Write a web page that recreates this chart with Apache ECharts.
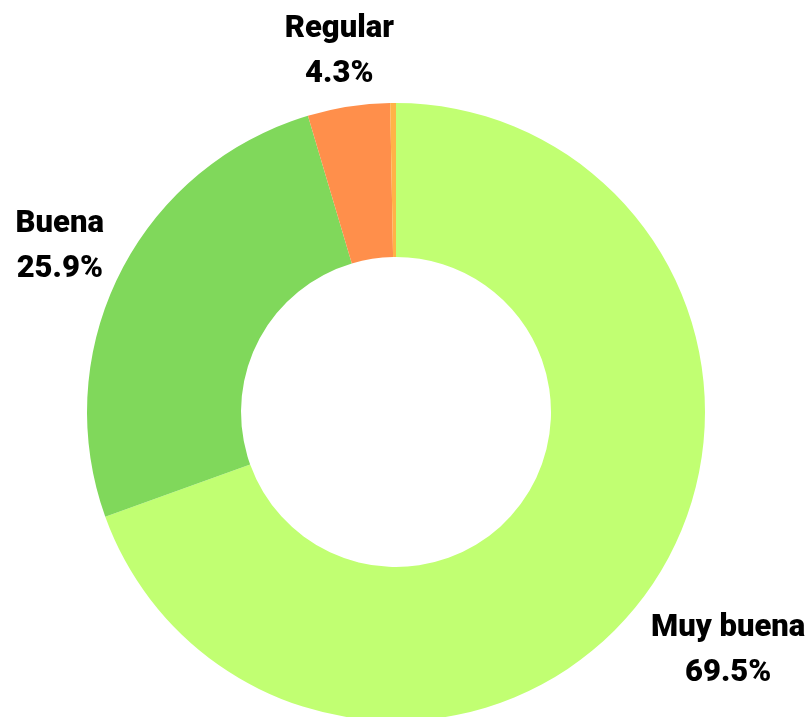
<!DOCTYPE html>
<html>
<head>
<meta charset="utf-8">
<script src="https://cdn.jsdelivr.net/npm/echarts@6/dist/echarts.min.js"></script>
<style>
  html, body { margin: 0; padding: 0; background: #ffffff; }
  #chart { width: 811px; height: 717px; }
</style>
</head>
<body>
<div id="chart"></div>
<script>
// Valoración: share of answers per rating
const categories = ['Muy buena', 'Buena', 'Regular', 'Mala'];
const shares = [69.5, 25.9, 4.3, 0.3];
const showLabel = [true, true, true, false];
const colors = ['#c1ff72', '#80d85b', '#ff8f4b', '#ffb347'];

const CENTER = [396, 412];
const INNER_R = 155;
const OUTER_R = 309;
const LABEL_GAP = 8;
const LABEL_DY = 5; // optical shift: glyphs sit high inside the line box

const total = shares.reduce((a, b) => a + b, 0);

const chart = echarts.init(document.getElementById('chart'), null, { renderer: 'canvas' });

chart.setOption({
  animation: false,
  backgroundColor: '#ffffff',
  series: [{
    type: 'pie',
    center: CENTER,
    radius: [INNER_R, OUTER_R],
    startAngle: 90,
    clockwise: true,
    avoidLabelOverlap: false,
    itemStyle: { borderWidth: 0 },
    emphasis: { disabled: true },
    labelLine: { show: false },
    label: {
      position: 'outside',
      formatter: p => showLabel[p.dataIndex] ? `${p.name}\n${shares[p.dataIndex].toFixed(1)}%` : '',
      fontFamily: 'Roboto',
      fontWeight: 900,
      fontSize: 31,
      lineHeight: 45,
      color: '#000000',
      align: 'center'
    },
    // Push each label outward along its slice's mid-angle so the text box sits just off the ring
    labelLayout: function (p) {
      const i = p.dataIndex;
      let before = 0;
      for (let k = 0; k < i; k++) before += shares[k];
      const mid = (before + shares[i] / 2) / total * Math.PI * 2;
      const ux = Math.sin(mid), uy = -Math.cos(mid);
      const w = p.labelRect.width, h = p.labelRect.height;
      const ext = Math.abs(ux) * w / 2 + Math.abs(uy) * h / 2;
      const d = OUTER_R + LABEL_GAP + ext;
      return {
        x: CENTER[0] + ux * d,
        y: CENTER[1] + uy * d + LABEL_DY,
        align: 'center',
        verticalAlign: 'middle'
      };
    },
    data: categories.map((name, i) => ({
      name: name,
      value: shares[i],
      itemStyle: { color: colors[i] }
    }))
  }]
});
</script>
</body>
</html>
